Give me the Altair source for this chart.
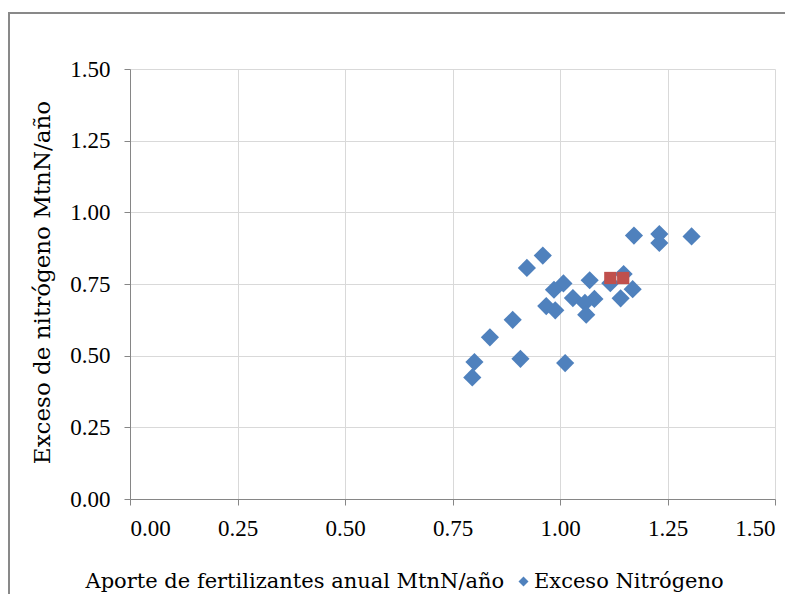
import altair as alt
import pandas as pd

# Blue series: Exceso Nitrógeno
blue_x = [1.172, 1.231, 1.231, 1.306, 0.960, 0.923, 1.148, 1.117, 1.069, 1.008,
          0.986, 1.169, 1.141, 1.030, 1.080, 1.058, 0.968, 0.989, 1.061, 0.890,
          0.837, 0.801, 0.796, 0.908, 1.012]
blue_y = [0.919, 0.924, 0.893, 0.916, 0.849, 0.806, 0.785, 0.753, 0.763, 0.752,
          0.730, 0.732, 0.700, 0.701, 0.698, 0.684, 0.673, 0.658, 0.643, 0.625,
          0.564, 0.478, 0.424, 0.489, 0.474]
# Red highlighted points
red_x = [1.117, 1.147]
red_y = [0.771, 0.771]

ticks = [0, 0.25, 0.5, 0.75, 1.0, 1.25, 1.5]
series_name = "Exceso Nitrógeno"
x_title = "Aporte de fertilizantes anual MtnN/año"
y_title = "Exceso de nitrógeno MtnN/año"

blue = pd.DataFrame({"x": blue_x, "y": blue_y, "serie": series_name})
red = pd.DataFrame({"x": red_x, "y": red_y})
frame = pd.DataFrame({"k": [0]})

W, H = 645, 430
SERIF_TICK = "Liberation Serif, Times New Roman, serif"
SERIF_TEXT = "DejaVu Serif, serif"

xscale = alt.Scale(domain=[0, 1.5], nice=False, zero=True)
yscale = alt.Scale(domain=[0, 1.5], nice=False, zero=True)

xaxis = alt.Axis(values=ticks, format=".2f", title=x_title,
                 titleX=-45, titleY=88, titleAnchor="start", titleAlign="left",
                 titleBaseline="alphabetic")
yaxis = alt.Axis(values=ticks, format=".2f", title=y_title, titleFontSize=23,
                 titleX=-88, titleY=213, titleAngle=-90, titleAlign="center",
                 titleBaseline="middle")

border = alt.Chart(frame).mark_rect(fill=None, stroke="#898989", strokeWidth=2, clip=False).encode(
    x=alt.value(-121), y=alt.value(-56), x2=alt.value(900), y2=alt.value(800)
)

pts = alt.Chart(blue).mark_point(shape="diamond", filled=True, size=330, opacity=1).encode(
    x=alt.X("x:Q", scale=xscale, axis=xaxis),
    y=alt.Y("y:Q", scale=yscale, axis=yaxis),
    color=alt.Color("serie:N", scale=alt.Scale(range=["#4f81bd"]),
                    legend=alt.Legend(title=None, orient="none", legendX=383, legendY=502,
                                      symbolType="diamond", symbolSize=100,
                                      labelFont=SERIF_TEXT, labelFontSize=21,
                                      labelLimit=400, labelOffset=0,
                                      labelColor="#000000", symbolStrokeWidth=0)),
)

redpts = alt.Chart(red).mark_point(shape="square", filled=True, size=150, opacity=1,
                                   color="#c0504d").encode(
    x=alt.X("x:Q", scale=xscale),
    y=alt.Y("y:Q", scale=yscale),
)

chart = alt.layer(border, pts, redpts).properties(
    width=W, height=H,
    autosize=alt.AutoSizeParams(type="none"),
    padding={"left": 122, "top": 61, "right": 10, "bottom": 95},
).configure_view(stroke=None).configure_axis(
    gridColor="#d9d9d9", gridWidth=1,
    domainColor="#868686", domainWidth=1,
    tickColor="#868686", tickSize=6,
    labelFont=SERIF_TICK, labelFontSize=23, labelColor="#000000",
    titleFont=SERIF_TEXT, titleFontSize=21, titleColor="#000000", titleFontWeight="normal",
).configure_axisY(labelPadding=14).configure_axisX(labelPadding=12)

chart.save("out.html", embed_options={"renderer": "svg", "actions": False})
